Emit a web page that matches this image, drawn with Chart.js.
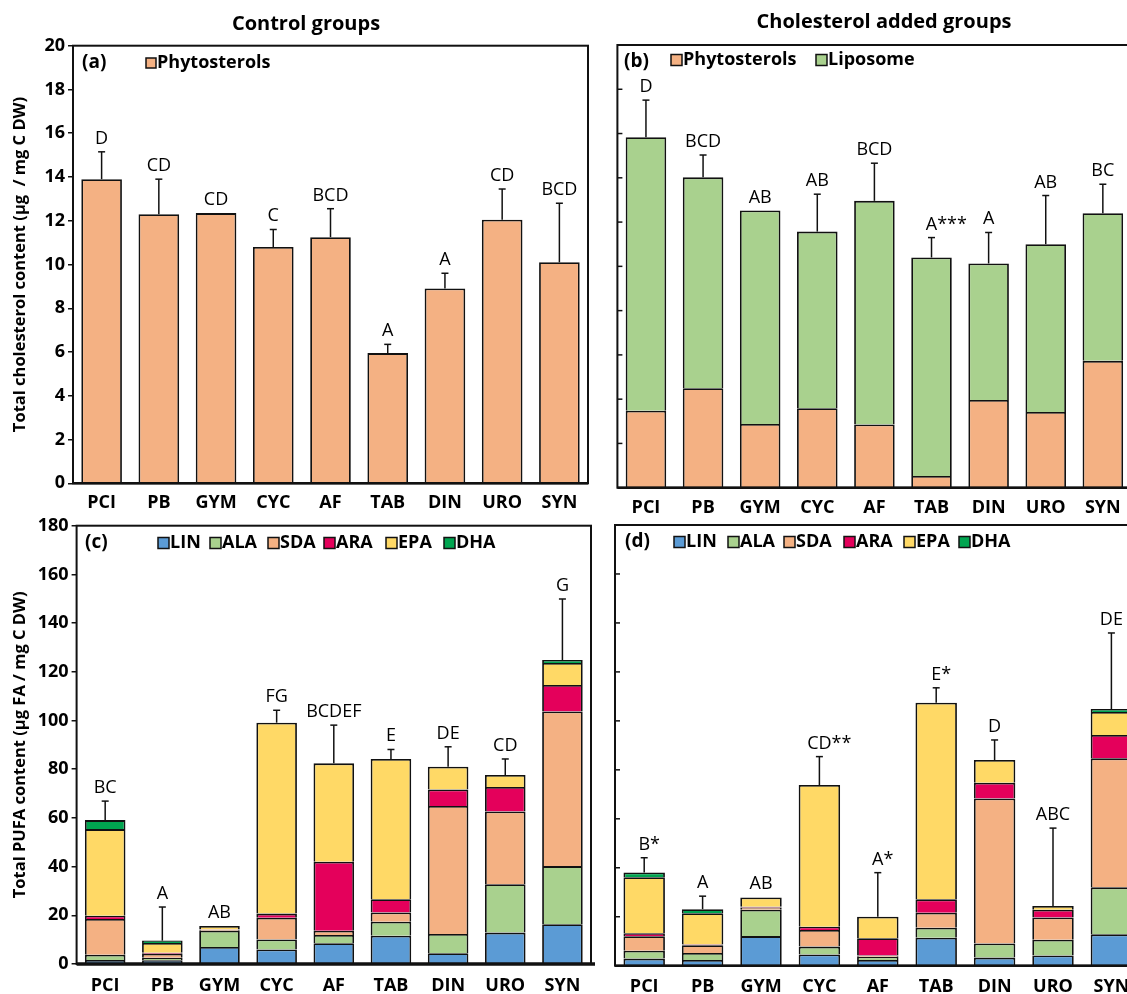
<!DOCTYPE html>
<html>
<head>
<meta charset="utf-8">
<script src="https://cdn.jsdelivr.net/npm/chart.js@4.4.1/dist/chart.umd.min.js"></script>
<style>
  html, body { margin: 0; padding: 0; background: #fff; }
  body { width: 1127px; height: 994px; overflow: hidden; position: relative; }
  canvas { position: absolute; }
</style>
</head>
<body>
<canvas id="chartA" width="600" height="520" style="left:0;top:0"></canvas>
<canvas id="chartB" width="560" height="520" style="left:600px;top:0"></canvas>
<canvas id="chartC" width="600" height="500" style="left:0;top:510px"></canvas>
<canvas id="chartD" width="560" height="500" style="left:600px;top:510px"></canvas>
<script>
// categories + tick labels
const categories = ['PCI', 'PB', 'GYM', 'CYC', 'AF', 'TAB', 'DIN', 'URO', 'SYN'];
const cholTicks = [0, 2, 4, 6, 8, 10, 12, 14, 16, 18, 20];
const pufaTicks = [0, 20, 40, 60, 80, 100, 120, 140, 160, 180];

// (a) control groups, cholesterol
const phytoA = [13.9, 12.3, 12.35, 10.8, 11.25, 5.95, 8.9, 12.05, 10.1];
const errA = [1.25, 1.6, 0, 0.8, 1.3, 0.4, 0.7, 1.4, 2.7];
const lettersA = ['D', 'CD', 'CD', 'C', 'BCD', 'A', 'A', 'CD', 'BCD'];

// (b) cholesterol added groups
const phytoB = [3.48, 4.49, 2.88, 3.59, 2.86, 0.53, 3.96, 3.42, 5.73];
const liposomeB = [12.35, 9.53, 9.64, 7.98, 10.1, 9.87, 6.17, 7.58, 6.67];
const errB = [1.68, 1.01, 0, 1.69, 1.7, 0.9, 1.4, 2.2, 1.31];
const lettersB = ['D', 'BCD', 'AB', 'AB', 'BCD', 'A***', 'A', 'AB', 'BC'];

// (c) control groups, PUFA
const linC = [1.6, 1.5, 7.0, 6.0, 8.5, 11.6, 4.4, 12.9, 16.3];
const alaC = [2.2, 1.1, 6.7, 4.1, 3.4, 5.8, 7.9, 19.9, 23.9];
const sdaC = [14.7, 1.6, 0.4, 8.9, 1.8, 3.8, 52.6, 29.8, 63.5];
const araC = [1.3, 0.4, 0.1, 1.7, 28.3, 5.4, 6.8, 10.1, 10.9];
const epaC = [35.6, 4.0, 1.4, 78.4, 40.4, 57.6, 9.3, 4.9, 9.0];
const dhaC = [3.7, 1.0, 0, 0, 0, 0, 0, 0, 1.2];
const errC = [7.8, 13.8, 0, 5.1, 15.7, 3.9, 8.2, 6.6, 25.1];
const lettersC = ['BC', 'A', 'AB', 'FG', 'BCDEF', 'E', 'DE', 'CD', 'G'];

// (d) cholesterol added groups, PUFA
const linD = [2.9, 2.3, 12.1, 4.6, 2.3, 11.4, 3.3, 4.2, 12.8];
const alaD = [3.2, 2.9, 10.8, 3.2, 1.4, 4.1, 5.8, 6.4, 19.2];
const sdaD = [5.9, 3.2, 0.9, 6.8, 0.5, 6.1, 59.2, 9.1, 52.7];
const araD = [1.3, 0.3, 0.3, 1.3, 7.0, 5.5, 6.4, 3.2, 9.5];
const epaD = [22.8, 12.7, 3.8, 57.9, 8.8, 80.3, 9.3, 1.5, 9.4];
const dhaD = [2.0, 1.7, 0, 0, 0, 0, 0, 0, 1.2];
const errD = [6.0, 5.3, 0, 11.6, 18.0, 6.1, 8.2, 31.8, 31.1];
const lettersD = ['B*', 'A', 'AB', 'CD**', 'A*', 'E*', 'D', 'ABC', 'DE'];

const FONT = "'Open Sans', 'DejaVu Sans', sans-serif";
Chart.defaults.font.family = FONT;
Chart.defaults.color = '#000';

const colors = {
  phyto: '#F4B183',
  lipo: '#A9D18E',
  LIN: '#5B9BD5',
  ALA: '#A9D18E',
  SDA: '#F4B183',
  ARA: '#E4005B',
  EPA: '#FFD966',
  DHA: '#00A550'
};

// extra drawing info per canvas (titles, legends, error bars)
const extras = {
  chartA: {
    errors: errA, letters: lettersA,
    title: 'Control groups', titleX: 306, titleY: 24,
    tag: '(a)', tagX: 82, tagY: 63,
    legend: [{ text: 'Phytosterols', color: colors.phyto, box: 146 }],
    legendY: 63, boxSize: 10, thickBase: false, innerTicks: null
  },
  chartB: {
    errors: errB, letters: lettersB,
    title: 'Cholesterol added groups', titleX: 284, titleY: 22,
    tag: '(b)', tagX: 24, tagY: 62,
    legend: [
      { text: 'Phytosterols', color: colors.phyto, box: 71 },
      { text: 'Liposome', color: colors.lipo, box: 216 }
    ],
    legendY: 60, boxSize: 11, thickBase: false, innerTicks: cholTicks
  },
  chartC: {
    errors: errC, letters: lettersC,
    tag: '(c)', tagX: 85, tagY: 33,
    legend: [
      { text: 'LIN', color: colors.LIN, box: 158 },
      { text: 'ALA', color: colors.ALA, box: 210 },
      { text: 'SDA', color: colors.SDA, box: 268 },
      { text: 'ARA', color: colors.ARA, box: 324 },
      { text: 'EPA', color: colors.EPA, box: 386 },
      { text: 'DHA', color: colors.DHA, box: 444 }
    ],
    legendY: 33, boxSize: 11, thickBase: true, innerTicks: null
  },
  chartD: {
    errors: errD, letters: lettersD,
    tag: '(d)', tagX: 25, tagY: 32,
    legend: [
      { text: 'LIN', color: colors.LIN, box: 74 },
      { text: 'ALA', color: colors.ALA, box: 128 },
      { text: 'SDA', color: colors.SDA, box: 184 },
      { text: 'ARA', color: colors.ARA, box: 244 },
      { text: 'EPA', color: colors.EPA, box: 304 },
      { text: 'DHA', color: colors.DHA, box: 359 }
    ],
    legendY: 32, boxSize: 11, thickBase: false, innerTicks: pufaTicks
  }
};

function line(ctx, x1, y1, x2, y2) {
  ctx.beginPath();
  ctx.moveTo(x1, y1);
  ctx.lineTo(x2, y2);
  ctx.stroke();
}

const panelPlugin = {
  id: 'panel',
  afterDatasetsDraw(chart) {
    const ex = extras[chart.canvas.id];
    if (!ex) return;
    const ctx = chart.ctx;
    const area = chart.chartArea;
    const xs = chart.scales.x;
    const ys = chart.scales.y;
    ctx.save();
    ctx.strokeStyle = '#111';
    ctx.fillStyle = '#000';

    // tick marks pointing inside (right-hand panels)
    if (ex.innerTicks) {
      ctx.lineWidth = 1.5;
      ex.innerTicks.slice(1, -1).forEach(v => {
        const py = ys.getPixelForValue(v);
        line(ctx, area.left, py, area.left + 5, py);
      });
    }

    // frame
    ctx.lineWidth = 2;
    ctx.strokeRect(area.left, area.top, area.right - area.left, area.bottom - area.top);
    if (ex.thickBase) {
      ctx.lineWidth = 3.5;
      line(ctx, area.left, area.bottom, area.right + 4, area.bottom);
    } else {
      ctx.lineWidth = 2.5;
      line(ctx, area.left, area.bottom, area.right, area.bottom);
    }

    // error bars + letters
    ctx.lineWidth = 1.5;
    categories.forEach((c, i) => {
      let total = 0;
      chart.data.datasets.forEach(ds => { total += ds.data[i] || 0; });
      const cx = xs.getPixelForValue(i);
      const top = ys.getPixelForValue(total);
      let labelBase = top;
      if (ex.errors[i] > 0) {
        const et = ys.getPixelForValue(total + ex.errors[i]);
        line(ctx, cx, top, cx, et);
        line(ctx, cx - 3.5, et, cx + 3.5, et);
        labelBase = et;
      }
      ctx.font = '18px ' + FONT;
      ctx.textAlign = 'left';
      ctx.textBaseline = 'alphabetic';
      const txt = ex.letters[i];
      const w = ctx.measureText(txt.replace(/\*/g, '')).width;
      ctx.fillText(txt, cx - w / 2, labelBase - 8);
    });

    // panel title
    if (ex.title) {
      ctx.font = 'bold 20px ' + FONT;
      ctx.textAlign = 'center';
      ctx.textBaseline = 'middle';
      ctx.fillText(ex.title, ex.titleX, ex.titleY);
    }

    // panel tag
    ctx.font = 'bold 19px ' + FONT;
    ctx.textAlign = 'left';
    ctx.textBaseline = 'middle';
    ctx.fillText(ex.tag, ex.tagX, ex.tagY);

    // legend
    ctx.font = 'bold 18px ' + FONT;
    const s = ex.boxSize;
    ex.legend.forEach(item => {
      ctx.fillStyle = item.color;
      ctx.fillRect(item.box, ex.legendY - s / 2, s, s);
      ctx.lineWidth = 1.5;
      ctx.strokeRect(item.box, ex.legendY - s / 2, s, s);
      ctx.fillStyle = '#000';
      ctx.fillText(item.text, item.box + s + 1, ex.legendY);
    });
    ctx.restore();
  }
};

function barSet(label, data, color) {
  return {
    label: label,
    // zero-height pieces would still leave an outline, so drop them
    data: data.map(v => (v > 0 ? v : null)),
    backgroundColor: color,
    borderColor: '#111',
    borderWidth: 1.8,
    barPercentage: 0.71,
    categoryPercentage: 1
  };
}

function makeChart(id, datasets, opts) {
  new Chart(document.getElementById(id), {
    type: 'bar',
    data: { labels: categories, datasets: datasets },
    plugins: [panelPlugin],
    options: {
      responsive: false,
      animation: false,
      devicePixelRatio: 1,
      layout: { padding: opts.padding },
      plugins: {
        legend: { display: false },
        tooltip: { enabled: false }
      },
      scales: {
        x: {
          stacked: true,
          grid: { display: false },
          border: { display: false },
          ticks: {
            font: { size: 18, weight: 'bold' },
            color: '#000',
            padding: opts.xPad,
            maxRotation: 0,
            autoSkip: false
          },
          afterFit: s => { s.height = opts.xHeight; }
        },
        y: {
          stacked: true,
          min: 0,
          max: opts.ticks[opts.ticks.length - 1],
          afterBuildTicks: s => { s.ticks = opts.ticks.map(v => ({ value: v })); },
          grid: {
            display: opts.showTicks,
            drawOnChartArea: false,
            drawTicks: true,
            tickLength: 5,
            color: '#111',
            lineWidth: 1.5
          },
          border: { display: false },
          ticks: {
            display: opts.showTicks,
            font: { size: 18, weight: 'bold' },
            color: '#000',
            padding: 3
          },
          title: {
            display: !!opts.yTitle,
            text: opts.yTitle || '',
            font: { size: 16.5, weight: 'bold' },
            color: '#000',
            padding: { top: 10, bottom: 0 }
          },
          afterFit: s => { s.width = opts.yWidth; }
        }
      }
    }
  });
}

makeChart('chartA', [barSet('Phytosterols', phytoA, colors.phyto)], {
  padding: { left: 0, top: 45.7, right: 12, bottom: 0 },
  xHeight: 36.7, xPad: 1, yWidth: 73, ticks: cholTicks, showTicks: true,
  yTitle: 'Total cholesterol content (\u00b5g  / mg C DW)'
});

makeChart('chartB', [
  barSet('Phytosterols', phytoB, colors.phyto),
  barSet('Liposome', liposomeB, colors.lipo)
], {
  padding: { left: 0, top: 45, right: 28.6, bottom: 0 },
  xHeight: 32.3, xPad: 1, yWidth: 17.4, ticks: cholTicks, showTicks: false
});

makeChart('chartC', [
  barSet('LIN', linC, colors.LIN),
  barSet('ALA', alaC, colors.ALA),
  barSet('SDA', sdaC, colors.SDA),
  barSet('ARA', araC, colors.ARA),
  barSet('EPA', epaC, colors.EPA),
  barSet('DHA', dhaC, colors.DHA)
], {
  padding: { left: 0, top: 15.7, right: 9, bottom: 0 },
  xHeight: 46, xPad: 3, yWidth: 76.6, ticks: pufaTicks, showTicks: true,
  yTitle: 'Total PUFA content (\u00b5g FA / mg C DW)'
});

makeChart('chartD', [
  barSet('LIN', linD, colors.LIN),
  barSet('ALA', alaD, colors.ALA),
  barSet('SDA', sdaD, colors.SDA),
  barSet('ARA', araD, colors.ARA),
  barSet('EPA', epaD, colors.EPA),
  barSet('DHA', dhaD, colors.DHA)
], {
  padding: { left: 0, top: 15, right: 19.4, bottom: 0 },
  xHeight: 44.3, xPad: 2, yWidth: 15, ticks: pufaTicks, showTicks: false
});
</script>
</body>
</html>
